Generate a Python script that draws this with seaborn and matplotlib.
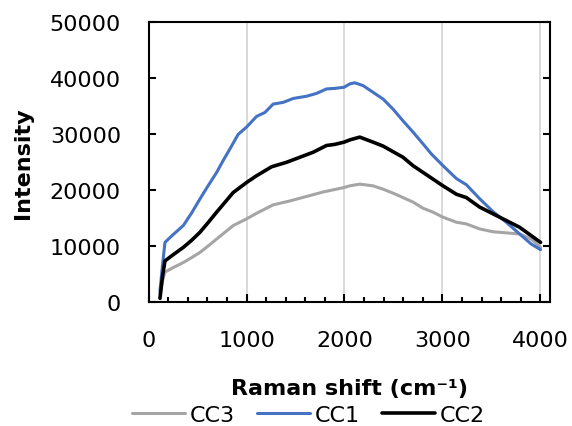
import numpy as np
import pandas as pd
import seaborn as sns
import matplotlib.pyplot as plt
from matplotlib.ticker import MultipleLocator

# Raman spectra of the three samples (shift in cm-1, intensity in counts)
cc1_shift = [115, 140, 166, 250, 353, 440, 523, 610, 694, 760, 830, 914, 1000,
             1102, 1187, 1271, 1373, 1476, 1612, 1714, 1816, 1900, 1996, 2054,
             2105, 2190, 2292, 2394, 2496, 2598, 2700, 2802, 2887, 3006, 3143,
             3245, 3381, 3517, 3653, 3789, 3908, 4003]
cc1_int = [2000, 6500, 10700, 12100, 13700, 16000, 18450, 20900, 23200, 25300,
           27400, 30000, 31300, 33200, 33900, 35400, 35700, 36400, 36800, 37300,
           38100, 38200, 38400, 39000, 39200, 38700, 37500, 36300, 34500, 32400,
           30400, 28300, 26500, 24400, 22100, 21000, 18500, 16200, 14300, 12200,
           10400, 9400]

cc2_shift = [115, 140, 166, 250, 353, 440, 523, 610, 694, 863, 1000, 1102, 1255,
             1408, 1544, 1680, 1816, 1900, 1996, 2054, 2156, 2292, 2394, 2496,
             2598, 2700, 2802, 2904, 3006, 3143, 3245, 3381, 3517, 3653, 3789,
             3908, 4003]
cc2_int = [700, 4500, 7400, 8500, 9800, 11100, 12500, 14300, 16100, 19600, 21400,
           22600, 24200, 25000, 25900, 26800, 28000, 28200, 28600, 29000, 29500,
           28600, 27900, 26900, 25900, 24400, 23200, 22000, 20800, 19300, 18700,
           17000, 15800, 14600, 13400, 11900, 10700]

cc3_shift = [115, 140, 166, 250, 353, 440, 523, 610, 694, 863, 1000, 1102, 1271,
             1442, 1612, 1782, 1996, 2054, 2156, 2292, 2394, 2496, 2598, 2700,
             2802, 2904, 3006, 3143, 3245, 3381, 3517, 3653, 3789, 3908, 4003]
cc3_int = [1500, 3800, 5400, 6200, 7100, 8000, 8900, 10100, 11300, 13700, 14900,
           15900, 17400, 18100, 18900, 19700, 20500, 20800, 21100, 20800, 20200,
           19500, 18700, 17900, 16800, 16100, 15200, 14300, 14000, 13100, 12600,
           12400, 12200, 11300, 9800]

samples = ["CC3", "CC1", "CC2"]
colors = {"CC3": "#A5A5A5", "CC1": "#4472C4", "CC2": "#000000"}
widths = {"CC3": 2.2, "CC1": 2.2, "CC2": 2.6}
series = {"CC3": (cc3_shift, cc3_int),
          "CC1": (cc1_shift, cc1_int),
          "CC2": (cc2_shift, cc2_int)}

sns.set_theme(style="white")
plt.rcParams["font.family"] = ["DejaVu Sans"]
plt.rcParams["text.color"] = "black"

fig = plt.figure(figsize=(5.72, 4.27), dpi=100)
ax = fig.add_axes([0.26, 0.2897, 0.7016, 0.6557])

for name in samples:
    xs, ys = series[name]
    df = pd.DataFrame({"shift": xs, "intensity": ys})
    sns.lineplot(data=df, x="shift", y="intensity", ax=ax, color=colors[name],
                 lw=widths[name], label=name, sort=False, estimator=None)

ax.set_xlim(0, 4100)
ax.set_ylim(0, 50000)
ax.xaxis.set_major_locator(MultipleLocator(1000))
ax.xaxis.set_minor_locator(MultipleLocator(200))
ax.yaxis.set_major_locator(MultipleLocator(10000))

ax.grid(axis="x", which="major", color="#D9D9D9", lw=1.4)
ax.grid(axis="y", visible=False)
ax.set_axisbelow(True)

for sp in ax.spines.values():
    sp.set_visible(True)
    sp.set_color("black")
    sp.set_linewidth(1.5)

ax.tick_params(axis="x", which="major", direction="in", length=6, width=1.5,
               labelsize=16, pad=20, bottom=True, top=False, colors="black")
ax.tick_params(axis="x", which="minor", direction="in", length=3.5, width=1.5,
               bottom=True, top=False, colors="black")
ax.tick_params(axis="y", which="major", direction="in", length=5, width=1.5,
               labelsize=16, pad=20, left=True, right=True, colors="black")

ax.set_xlabel("Raman shift (cm⁻¹)", fontsize=16, fontweight="bold",
              labelpad=20, color="black")
ax.set_ylabel("Intensity", fontsize=16, fontweight="bold",
              labelpad=12, color="black")

handles, labels = ax.get_legend_handles_labels()
ax.get_legend().remove()
fig.legend(handles, labels, loc="center", bbox_to_anchor=(0.539, 0.026),
           ncol=3, frameon=False, fontsize=16, handlelength=2.4,
           handletextpad=0.2, columnspacing=1.0, labelcolor="black")

fig.savefig("out.png", dpi=100)
